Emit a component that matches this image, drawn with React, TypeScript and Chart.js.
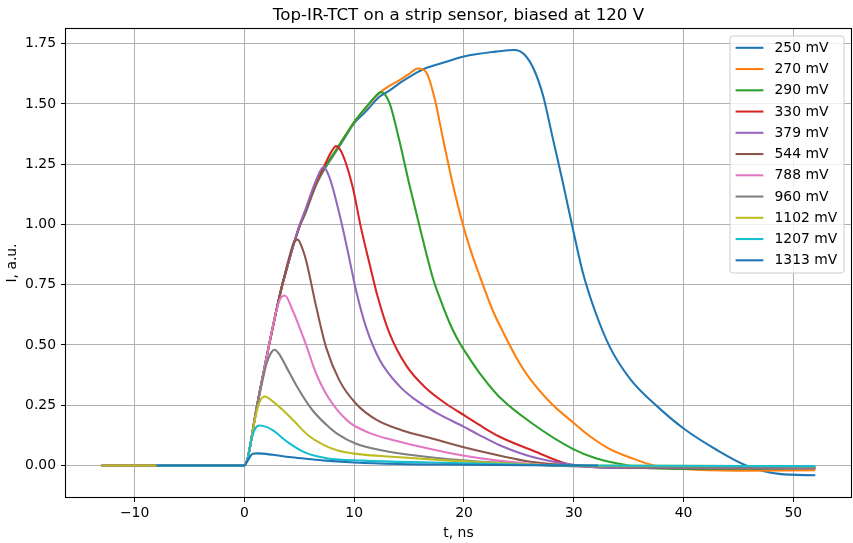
import React, { useEffect, useRef } from "react";
import { Chart, registerables } from "chart.js";

Chart.register(...registerables);

const TITLE = "Top-IR-TCT on a strip sensor, biased at 120 V";
const X_LABEL = "t, ns";
const Y_LABEL = "I, a.u.";
const X_TICKS = [-10, 0, 10, 20, 30, 40, 50];
const Y_TICKS = [0, 0.25, 0.5, 0.75, 1.0, 1.25, 1.5, 1.75];
const X_MIN = -16.25;
const X_MAX = 55.25;
const Y_MIN = -0.131;
const Y_MAX = 1.811;

const LABELS = ["250 mV", "270 mV", "290 mV", "330 mV", "379 mV", "544 mV", "788 mV", "960 mV", "1102 mV", "1207 mV", "1313 mV"];
const COLORS = ["#1f77b4", "#ff7f0e", "#2ca02c", "#d62728", "#9467bd", "#8c564b", "#e377c2", "#7f7f7f", "#bcbd22", "#17becf", "#1f77b4"];

// 250 mV
const T250 = [-13, -8, -4, 0, 0.3, 0.6, 1, 1.5, 2.2, 2.8, 3.4, 4, 4.5, 5, 5.5, 6.5, 7.3, 8.3, 9, 10, 11, 12.3, 13.2, 14.1, 15.3, 16.5, 18.4, 20, 22.9, 24.6, 25.5, 26.4, 27.2, 28.1, 29, 29.9, 30.8, 31.9, 33.3, 35.2, 37.6, 40.1, 43, 45.7, 48.7, 52];
const V250 = [0, 0, 0, 0, 0.03, 0.1, 0.21, 0.33, 0.49, 0.62, 0.74, 0.84, 0.92, 0.99, 1.04, 1.16, 1.23, 1.3, 1.35, 1.42, 1.466, 1.53, 1.555, 1.585, 1.62, 1.648, 1.675, 1.697, 1.717, 1.724, 1.705, 1.64, 1.535, 1.355, 1.175, 0.985, 0.805, 0.645, 0.49, 0.355, 0.245, 0.15, 0.065, 0.0, -0.035, -0.041];

// 270 mV
const T270 = [-13, -8, -4, 0, 0.3, 0.6, 1, 1.5, 2.2, 2.8, 3.4, 4, 4.5, 5, 5.5, 6.5, 7.3, 8.3, 9, 10, 11, 12.3, 13.2, 14.1, 15, 15.8, 16.55, 17.3, 18.06, 18.97, 19.9, 20.7, 21.4, 22.6, 23.6, 24.8, 26, 28, 29.9, 31.5, 33.2, 35.3, 37.3, 40, 45, 52];
const V270 = [0, 0, 0, 0, 0.03, 0.1, 0.21, 0.33, 0.49, 0.62, 0.74, 0.84, 0.92, 0.99, 1.045, 1.165, 1.235, 1.305, 1.355, 1.425, 1.48, 1.545, 1.575, 1.598, 1.625, 1.647, 1.632, 1.528, 1.362, 1.169, 1.0, 0.88, 0.79, 0.645, 0.55, 0.445, 0.36, 0.255, 0.18, 0.12, 0.07, 0.03, 0.0, -0.015, -0.022, -0.02];

// 290 mV
const T290 = [-13, -8, -4, 0, 0.3, 0.6, 1, 1.5, 2.2, 2.8, 3.4, 4, 4.5, 5, 5.5, 6.5, 7.3, 8.3, 9, 10, 11, 11.8, 12.45, 13.2, 14.1, 15, 15.94, 17.15, 18, 18.7, 19.4, 20.2, 21.7, 23.2, 26.25, 29.9, 32, 34.15, 36, 42, 52];
const V290 = [0, 0, 0, 0, 0.03, 0.1, 0.21, 0.33, 0.49, 0.62, 0.74, 0.84, 0.92, 0.99, 1.045, 1.165, 1.235, 1.305, 1.355, 1.425, 1.482, 1.525, 1.549, 1.505, 1.35, 1.17, 0.995, 0.78, 0.67, 0.59, 0.525, 0.465, 0.366, 0.285, 0.173, 0.069, 0.03, 0.007, -0.008, -0.015, -0.012];

// 330 mV
const T330 = [-13, -8, -4, 0, 0.3, 0.6, 1, 1.5, 2.2, 2.8, 3.4, 4, 4.5, 5, 5.5, 6.5, 7.3, 7.9, 8.35, 8.95, 9.86, 10.6, 11.38, 12.14, 13.2, 14.73, 16.55, 18.4, 20.2, 21.4, 23.2, 26.25, 30, 35, 52];
const V330 = [0, 0, 0, 0, 0.03, 0.1, 0.21, 0.33, 0.49, 0.62, 0.74, 0.84, 0.92, 0.99, 1.05, 1.17, 1.245, 1.3, 1.325, 1.29, 1.155, 0.99, 0.84, 0.7, 0.55, 0.415, 0.32, 0.255, 0.203, 0.168, 0.12, 0.062, 0.0, -0.01, -0.012];

// 379 mV
const T379 = [-13, -8, -4, 0, 0.3, 0.6, 1, 1.5, 2.2, 2.8, 3.4, 4, 4.5, 5, 5.5, 6.5, 7.2, 7.74, 8.65, 9.4, 10.17, 11.08, 12.3, 14.1, 15.5, 17.5, 20, 21.4, 23.2, 26.25, 29.3, 33, 52];
const V379 = [0, 0, 0, 0, 0.03, 0.1, 0.21, 0.33, 0.49, 0.62, 0.74, 0.84, 0.92, 0.995, 1.055, 1.18, 1.238, 1.196, 1.044, 0.892, 0.726, 0.574, 0.44, 0.33, 0.275, 0.218, 0.16, 0.126, 0.085, 0.035, 0.007, -0.01, -0.012];

// 544 mV
const T544 = [-13, -8, -4, 0, 0.3, 0.6, 1, 1.5, 2.2, 2.8, 3.4, 4, 4.5, 4.86, 5.2, 5.62, 6.53, 7.44, 8.65, 10.17, 12, 14.4, 16.85, 19.9, 23.2, 26.25, 30, 35, 52];
const V544 = [0, 0, 0, 0, 0.03, 0.1, 0.21, 0.33, 0.49, 0.62, 0.74, 0.85, 0.925, 0.937, 0.91, 0.85, 0.66, 0.49, 0.353, 0.256, 0.19, 0.145, 0.115, 0.076, 0.041, 0.014, 0.0, -0.008, -0.01];

// 788 mV
const T788 = [-13, -8, -4, 0, 0.3, 0.6, 1, 1.5, 2.2, 2.8, 3.25, 3.68, 4.4, 5, 5.62, 6.5, 7.6, 9.4, 11.38, 13.8, 16.85, 19.9, 22.9, 26, 30, 52];
const V788 = [0, 0, 0, 0, 0.03, 0.1, 0.21, 0.33, 0.49, 0.62, 0.69, 0.705, 0.643, 0.575, 0.5, 0.385, 0.285, 0.185, 0.135, 0.102, 0.069, 0.041, 0.021, 0.007, -0.003, -0.008];

// 960 mV
const T960 = [-13, -8, -4, 0, 0.3, 0.6, 1, 1.5, 2.0, 2.4, 2.75, 3.2, 3.8, 5, 6.22, 7.44, 8.5, 10.17, 12.6, 15.6, 19.9, 24.5, 30, 52];
const V960 = [0, 0, 0, 0, 0.03, 0.1, 0.21, 0.32, 0.42, 0.465, 0.48, 0.46, 0.41, 0.311, 0.228, 0.17, 0.13, 0.09, 0.062, 0.041, 0.021, 0.007, -0.003, -0.008];

// 1102 mV
const T1102 = [-13, -8, -4, 0, 0.3, 0.6, 1, 1.4, 1.85, 2.6, 3.5, 4.5, 5.8, 7.2, 8.5, 10.17, 13.8, 18.4, 24.5, 30, 52];
const V1102 = [0, 0, 0, 0, 0.03, 0.1, 0.2, 0.265, 0.286, 0.265, 0.23, 0.185, 0.125, 0.085, 0.062, 0.048, 0.035, 0.021, 0.007, 0.0, -0.003];

// 1207 mV
const T1207 = [-8, -4, 0, 0.3, 0.6, 0.95, 1.37, 2.0, 2.6, 4.0, 5.6, 7.5, 10.8, 16.85, 22.9, 30, 52];
const V1207 = [0, 0, 0, 0.03, 0.1, 0.15, 0.166, 0.16, 0.145, 0.095, 0.052, 0.03, 0.02, 0.012, 0.006, 0.0, -0.003];

// 1313 mV
const T1313 = [-8, -4, 0, 0.3, 0.76, 1.2, 2.6, 4.1, 5.6, 7.4, 10, 14, 20, 26, 32.2];
const V1313 = [0, 0, 0, 0.02, 0.048, 0.05, 0.044, 0.035, 0.028, 0.02, 0.012, 0.006, 0.003, 0.001, 0.0];

const SERIES_T = [T250, T270, T290, T330, T379, T544, T788, T960, T1102, T1207, T1313];
const SERIES_V = [V250, V270, V290, V330, V379, V544, V788, V960, V1102, V1207, V1313];

const FONT = '"DejaVu Sans", "Liberation Sans", sans-serif';

export default function App() {
  const ref = useRef<HTMLCanvasElement | null>(null);

  useEffect(() => {
    document.body.style.margin = "0";
    const canvas = ref.current;
    if (!canvas) return;

    const datasets = LABELS.map((label, i) => ({
      label,
      data: SERIES_T[i].map((t, j) => ({ x: t, y: SERIES_V[i][j] })),
      borderColor: COLORS[i],
      backgroundColor: COLORS[i],
      borderWidth: 2.08,
      pointRadius: 0,
      pointHoverRadius: 0,
      fill: false,
      cubicInterpolationMode: "monotone" as const,
      order: LABELS.length - i,
    }));

    const decor = {
      id: "decor",
      afterDatasetsDraw(chart: any) {
        const { ctx, chartArea: a } = chart;
        ctx.save();
        ctx.strokeStyle = "#000";
        ctx.lineWidth = 1.1;
        ctx.strokeRect(Math.round(a.left) - 0.5, Math.round(a.top) - 0.5, Math.round(a.right - a.left) + 1, Math.round(a.bottom - a.top) + 1);
        ctx.restore();
      },
      afterDraw(chart: any) {
        const { ctx, chartArea: a } = chart;
        ctx.save();
        // Title
        ctx.fillStyle = "#000";
        ctx.font = `16.67px ${FONT}`;
        ctx.textAlign = "center";
        ctx.textBaseline = "alphabetic";
        ctx.fillText(TITLE, (a.left + a.right) / 2, 19.5);
        // Axis labels
        ctx.font = `13.9px ${FONT}`;
        ctx.textBaseline = "middle";
        ctx.fillText(X_LABEL, (a.left + a.right) / 2, 533);
        ctx.save();
        ctx.translate(12, (a.top + a.bottom) / 2);
        ctx.rotate(-Math.PI / 2);
        ctx.fillText(Y_LABEL, 0, 0);
        ctx.restore();

        // Legend
        const bx = 730, by = 36, bw = 114, rowH = 21.25;
        const bh = 237;
        const r = 2.8;
        ctx.beginPath();
        ctx.moveTo(bx + r, by);
        ctx.lineTo(bx + bw - r, by);
        ctx.arcTo(bx + bw, by, bx + bw, by + r, r);
        ctx.lineTo(bx + bw, by + bh - r);
        ctx.arcTo(bx + bw, by + bh, bx + bw - r, by + bh, r);
        ctx.lineTo(bx + r, by + bh);
        ctx.arcTo(bx, by + bh, bx, by + bh - r, r);
        ctx.lineTo(bx, by + r);
        ctx.arcTo(bx, by, bx + r, by, r);
        ctx.closePath();
        ctx.fillStyle = "rgba(255,255,255,0.8)";
        ctx.fill();
        ctx.strokeStyle = "#cccccc";
        ctx.lineWidth = 1;
        ctx.stroke();

        ctx.textAlign = "left";
        ctx.textBaseline = "middle";
        ctx.font = `13.9px ${FONT}`;
        LABELS.forEach((label, i) => {
          const y = by + 11.8 + i * rowH;
          ctx.strokeStyle = COLORS[i];
          ctx.lineWidth = 2.08;
          ctx.beginPath();
          ctx.moveTo(735.6, y);
          ctx.lineTo(763.4, y);
          ctx.stroke();
          ctx.fillStyle = "#000";
          ctx.fillText(label, 774.5, y + 0.5);
        });
        ctx.restore();
      },
    };

    const chart = new Chart(canvas, {
      type: "line",
      data: { datasets },
      options: {
        animation: false,
        responsive: false,
        maintainAspectRatio: false,
        events: [],
        layout: { padding: { left: 0, right: 2, top: 29, bottom: 0 } },
        plugins: {
          legend: { display: false },
          title: { display: false },
          tooltip: { enabled: false },
        },
        scales: {
          x: {
            type: "linear",
            min: X_MIN,
            max: X_MAX,
            afterBuildTicks: (s: any) => {
              s.ticks = X_TICKS.map((v) => ({ value: v }));
            },
            afterFit: (s: any) => {
              s.height = 46;
            },
            grid: {
              color: "#b0b0b0",
              lineWidth: 1,
              drawTicks: true,
              tickLength: 5,
              tickColor: "#000",
              tickWidth: 1,
            },
            border: { display: false },
            ticks: {
              autoSkip: false,
              maxRotation: 0,
              padding: 3,
              color: "#000",
              font: { family: FONT, size: 13.9 },
              callback: (v: any) => (Number(v) < 0 ? "\u2212" + Math.abs(Number(v)) : String(v)),
            },
          },
          y: {
            type: "linear",
            min: Y_MIN,
            max: Y_MAX,
            afterBuildTicks: (s: any) => {
              s.ticks = Y_TICKS.map((v) => ({ value: v }));
            },
            afterFit: (s: any) => {
              s.width = 66;
            },
            grid: {
              color: "#b0b0b0",
              lineWidth: 1,
              drawTicks: true,
              tickLength: 5,
              tickColor: "#000",
              tickWidth: 1,
            },
            border: { display: false },
            ticks: {
              autoSkip: false,
              padding: 5,
              color: "#000",
              font: { family: FONT, size: 13.9 },
              callback: (v: any) => Number(v).toFixed(2),
            },
          },
        },
      },
      plugins: [decor],
    } as any);

    return () => chart.destroy();
  }, []);

  return (
    <div style={{ width: 853, height: 543 }}>
      <canvas ref={ref} width={853} height={543} style={{ display: "block", width: 853, height: 543 }} />
    </div>
  );
}
